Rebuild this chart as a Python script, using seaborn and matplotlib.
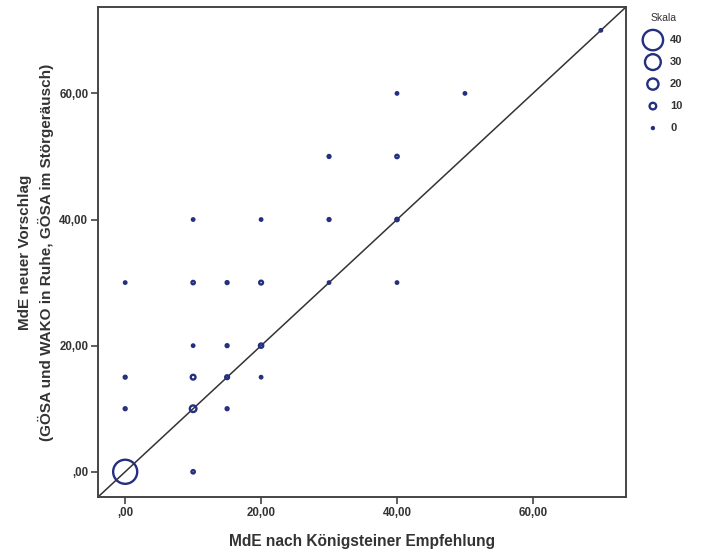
import numpy as np
import pandas as pd
import matplotlib
matplotlib.use("Agg")
import matplotlib.pyplot as plt
import seaborn as sns

# MdE values: Königstein recommendation (x) vs. new proposal (y), with case counts
mde_koenigstein = [0, 10, 0, 0, 0, 10, 10, 10, 10, 10, 15, 15, 15, 15,
                   20, 20, 20, 20, 30, 30, 30, 40, 40, 40, 40, 50, 70]
mde_vorschlag = [0, 0, 10, 15, 30, 10, 15, 20, 30, 40, 10, 15, 20, 30,
                 15, 20, 30, 40, 30, 40, 50, 30, 40, 50, 60, 60, 70]
anzahl = [48, 3, 2, 2, 1, 10, 6, 1, 3, 1, 2, 4, 2, 2,
          1, 5, 4, 1, 1, 2, 2, 1, 3, 3, 1, 1, 1]

tick_values = [0, 20, 40, 60]
tick_labels = [",00", "20,00", "40,00", "60,00"]
legend_levels = [40, 30, 20, 10, 0]

df = pd.DataFrame({"x": mde_koenigstein, "y": mde_vorschlag, "n": anzahl})

sns.set_theme(style="white")
plt.rcParams["font.family"] = ["Liberation Sans", "DejaVu Sans"]

NAVY = "#24307f"
TEXT = "#333333"
DPI = 100
EDGE_LW = 1.7


def marker_area(n):
    # circle diameter grows linearly with the count; area in pt^2
    d_px = 2.0 + 0.46 * np.asarray(n, dtype=float)
    d_pt = d_px * 72.0 / DPI
    return d_pt ** 2


fig = plt.figure(figsize=(7.02, 5.56), dpi=DPI)
ax = fig.add_axes([98 / 702, 1 - 497 / 556, (626 - 98) / 702, (497 - 7) / 556])

lo, hi = -4.0, 73.7
ax.set_xlim(lo, hi)
ax.set_ylim(lo, hi)

# identity line
ax.axline((0, 0), slope=1, color="#333333", lw=1.1, zorder=1)

sns.scatterplot(data=df, x="x", y="y", s=marker_area(df["n"]),
                facecolors="none", edgecolor=NAVY, linewidth=EDGE_LW,
                legend=False, ax=ax, zorder=3)

ax.set_xticks(tick_values)
ax.set_xticklabels(tick_labels)
ax.set_yticks(tick_values)
ax.set_yticklabels(tick_labels)
ax.tick_params(axis="both", which="both", direction="out", length=5, width=1.1,
               color="#333333", labelsize=8.3, labelcolor=TEXT, pad=2,
               bottom=True, left=True)
for lab in ax.get_xticklabels() + ax.get_yticklabels():
    lab.set_fontweight("bold")

for sp in ax.spines.values():
    sp.set_color("#444444")
    sp.set_linewidth(1.4)

ax.set_xlabel("MdE nach Königsteiner Empfehlung", fontsize=11.2,
              fontweight="bold", color=TEXT, labelpad=11)
ax.set_ylabel("MdE neuer Vorschlag\n(GÖSA und WAKO in Ruhe, GÖSA im Störgeräusch)",
              fontsize=11, fontweight="bold", color=TEXT, labelpad=4,
              linespacing=1.4)

# size legend
handles = [ax.scatter([], [], s=marker_area(v), facecolors="none",
                      edgecolors=NAVY, linewidths=EDGE_LW) for v in legend_levels]
leg = fig.legend(handles, [str(v) for v in legend_levels], title="Skala",
                 loc="upper left", bbox_to_anchor=(644 / 702, 1 - 13 / 556),
                 frameon=False, fontsize=8, title_fontsize=7.5,
                 labelspacing=1.08, handletextpad=0.75, handlelength=1.6,
                 borderaxespad=0.0, borderpad=0.0)
for t in leg.get_texts():
    t.set_fontweight("bold")
    t.set_color(TEXT)
leg.get_title().set_color(TEXT)

fig.savefig("out.png", dpi=DPI)
